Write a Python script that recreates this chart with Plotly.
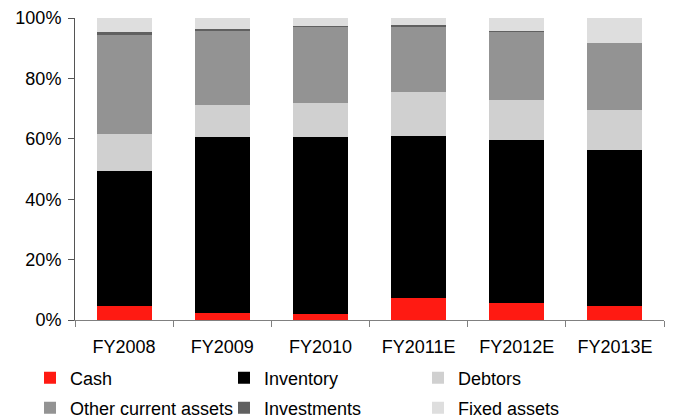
import plotly.graph_objects as go

years = ['FY2008', 'FY2009', 'FY2010', 'FY2011E', 'FY2012E', 'FY2013E']
cash = [4.8, 2.2, 1.9, 7.2, 5.7, 4.8]
inventory = [44.6, 58.3, 58.6, 53.6, 53.8, 51.6]
debtors = [12.3, 10.8, 11.5, 14.6, 13.5, 13.3]
other_current = [32.7, 24.6, 25.2, 21.9, 22.4, 21.9]
investments = [1.0, 0.6, 0.3, 0.3, 0.2, 0.0]
fixed_assets = [4.6, 3.5, 2.5, 2.4, 4.4, 8.4]

series = [
    ('Cash', cash, '#ff1a12', 'legend'),
    ('Inventory', inventory, '#000000', 'legend'),
    ('Debtors', debtors, '#d0d0d0', 'legend'),
    ('Other current assets', other_current, '#939393', 'legend2'),
    ('Investments', investments, '#606060', 'legend2'),
    ('Fixed assets', fixed_assets, '#dedede', 'legend2'),
]

fig = go.Figure()
for name, vals, col, leg in series:
    fig.add_trace(go.Bar(x=years, y=[v / 100 for v in vals], name=name,
                         legend=leg,
                         marker=dict(color=col, line=dict(width=0))))

leg_style = dict(
    orientation='h', xref='container', yref='container',
    xanchor='left', yanchor='middle',
    entrywidth=149, entrywidthmode='pixels',
    itemwidth=30, traceorder='normal',
    font=dict(size=18), bgcolor='rgba(0,0,0,0)',
)

fig.update_layout(
    barmode='stack',
    bargap=0.44,
    width=673, height=418,
    margin=dict(l=75, r=9, t=18, b=98, autoexpand=False),
    plot_bgcolor='white',
    paper_bgcolor='white',
    font=dict(family='Liberation Sans, Arial', size=18, color='#000000'),
    xaxis=dict(
        showline=True, linecolor='#808080', linewidth=1,
        ticks='outside', tickson='boundaries', ticklen=6, tickcolor='#808080',
        ticklabelstandoff=10,
        showgrid=False, automargin=False,
    ),
    yaxis=dict(
        range=[0, 1], dtick=0.2, tickformat='.0%',
        showline=True, linecolor='#555555', linewidth=1,
        ticks='outside', ticklen=6, tickcolor='#555555',
        ticklabelstandoff=3,
        showgrid=False, zeroline=False, automargin=False,
    ),
    legend=dict(leg_style, x=30 / 673, y=1 - 378 / 418),
    legend2=dict(leg_style, x=30 / 673, y=1 - 408 / 418),
)

# drop the default body margin so the 673x418 figure fills the window
fig.write_html('out.html', config={'displayModeBar': False},
               post_script="document.body.style.margin='0';")
